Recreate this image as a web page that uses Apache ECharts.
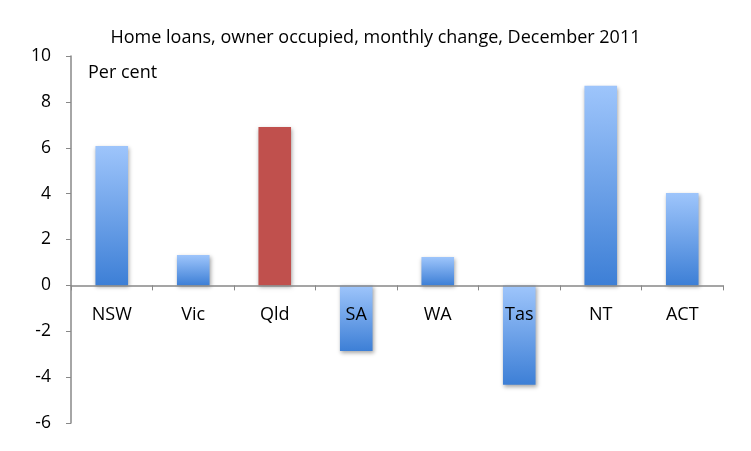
<!DOCTYPE html>
<html><head><meta charset="utf-8">
<script src="https://cdn.jsdelivr.net/npm/echarts@6/dist/echarts.min.js"></script>
<style>html,body{margin:0;padding:0;background:#fff}#c{width:751px;height:451px}</style>
</head><body><div id="c"></div>
<script>
const categories = ['NSW','Vic','Qld','SA','WA','Tas','NT','ACT'];
const values = [6.08, 1.32, 6.9, -2.86, 1.24, -4.33, 8.7, 4.03];
const highlight = 'Qld';
const yTicks = {min: -6, max: 10, interval: 2};

const blueGrad = new echarts.graphic.LinearGradient(0,0,0,1,[{offset:0,color:'#9ec5fb'},{offset:1,color:'#3d7fd6'}]);
const chart = echarts.init(document.getElementById('c'), null, {renderer:'canvas'});
const font = '"Open Sans", sans-serif';
const gridTop = 56, gridBottom = 28, H = 451;
const plotH = H - gridTop - gridBottom;
const zeroOffset = plotH * (0 - yTicks.min) / (yTicks.max - yTicks.min);
chart.setOption({
  animation:false,
  title:{text:'Home loans, owner occupied, monthly change, December 2011',left:'center',top:24,
    textStyle:{fontFamily:font,fontSize:18,fontWeight:'normal',color:'#000'}},
  grid:{left:71,right:28,top:gridTop,bottom:gridBottom},
  graphic:[{type:'text',left:88,top:64,style:{text:'Per cent',font:'18px '+font,fill:'#000'}}],
  xAxis:[{type:'category',data:categories,
    axisLine:{onZero:false,lineStyle:{color:'#888',width:1.5}},
    offset:-zeroOffset,
    axisTick:{show:true,length:5,lineStyle:{color:'#888'},inside:false},
    axisLabel:{color:'#000',fontFamily:font,fontSize:18,margin:20},
    z:10}],
  yAxis:{type:'value',min:yTicks.min,max:yTicks.max,interval:yTicks.interval,
    axisLine:{show:true,lineStyle:{color:'#888',width:1.5}},
    axisTick:{show:true,length:5,lineStyle:{color:'#888'}},
    splitLine:{show:false},
    axisLabel:{color:'#000',fontFamily:font,fontSize:17.5,margin:20}},
  series:[{type:'bar',barWidth:'40%',z:2,
    data:values.map((v,i)=>({value:v,itemStyle:{color: categories[i]===highlight ? '#c0504d' : blueGrad}})),
    itemStyle:{shadowColor:'rgba(0,0,0,0.35)',shadowBlur:4,shadowOffsetX:1,shadowOffsetY:2}
  }]
});
</script></body></html>
